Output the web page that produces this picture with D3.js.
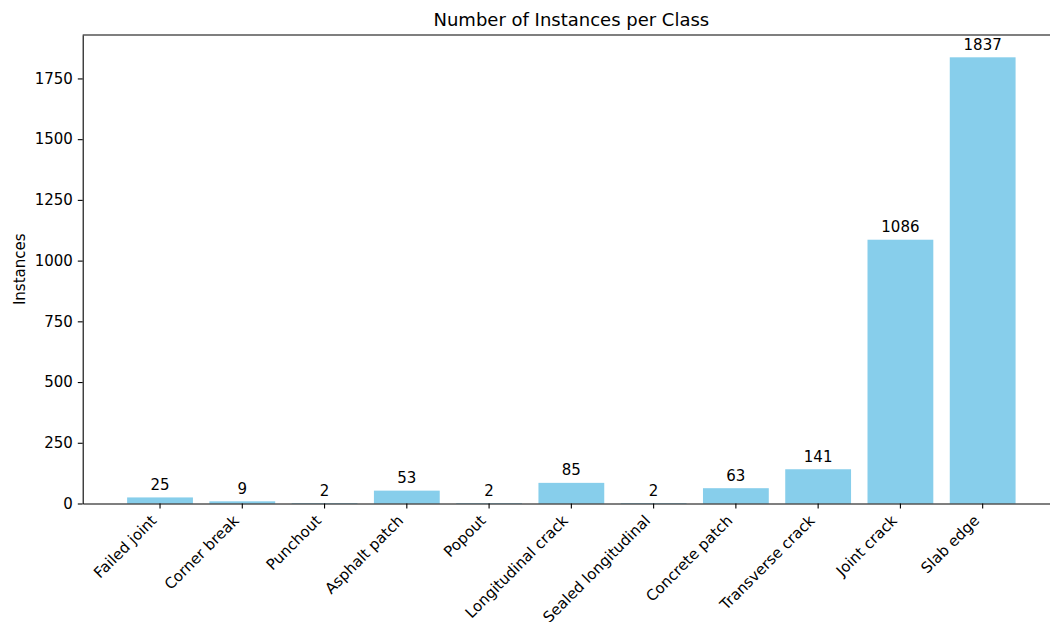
<!DOCTYPE html>
<html>
<head>
<meta charset="utf-8">
<script src="https://cdn.jsdelivr.net/npm/d3@7"></script>
<style>
    body { margin: 0; background: #fff; }
    text { font-family: "DejaVu Sans", sans-serif; fill: #000; }
</style>
</head>
<body>
<svg id="chart" width="1050" height="622"></svg>
<script>
// data
let classes = ["Failed joint", "Corner break", "Punchout", "Asphalt patch", "Popout",
    "Longitudinal crack", "Sealed longitudinal", "Concrete patch", "Transverse crack",
    "Joint crack", "Slab edge"];
let counts = [25, 9, 2, 53, 2, 85, 2, 63, 141, 1086, 1837];
let yTicks = [0, 250, 500, 750, 1000, 1250, 1500, 1750];

let svg = d3.select("#chart");
let axLeft = 82.7, axRight = 1060, axTop = 35, axBottom = 503.5;
let fontSize = "15px";

let xScale = d3.scaleBand()
    .domain(classes)
    .range([axLeft, axRight])
    .paddingInner(0.2)
    .paddingOuter(0.54);

let yScale = d3.scaleLinear()
    .domain([0, d3.max(counts) * 1.05])
    .range([axBottom, axTop]);

// bars
svg.append("g")
    .selectAll("rect")
    .data(counts)
    .enter()
    .append("rect")
    .attr("x", (d, i) => xScale(classes[i]))
    .attr("y", d => yScale(d))
    .attr("width", xScale.bandwidth())
    .attr("height", d => axBottom - yScale(d))
    .attr("fill", "#87ceeb");

// value labels
svg.append("g")
    .selectAll("text")
    .data(counts)
    .enter()
    .append("text")
    .attr("x", (d, i) => xScale(classes[i]) + xScale.bandwidth() / 2)
    .attr("y", d => yScale(d) - 7.5)
    .attr("text-anchor", "middle")
    .style("font-size", fontSize)
    .text(d => d);

// axes
let xAxis = d3.axisBottom(xScale).tickSizeInner(4.9).tickSizeOuter(0).tickPadding(4.9);
let gx = svg.append("g")
    .attr("transform", `translate(0, ${axBottom})`)
    .call(xAxis);
gx.selectAll("text")
    .style("font-size", fontSize)
    .attr("text-anchor", "end")
    .attr("dy", null)
    .attr("y", 0)
    .attr("transform", "translate(-2.5, 18) rotate(-45)");

let yAxis = d3.axisLeft(yScale)
    .tickValues(yTicks)
    .tickFormat(d3.format("d"))
    .tickSizeInner(4.9)
    .tickSizeOuter(0)
    .tickPadding(4.9);
let gy = svg.append("g")
    .attr("transform", `translate(${axLeft}, 0)`)
    .call(yAxis);
gy.selectAll("text").style("font-size", fontSize);

svg.selectAll(".domain, .tick line")
    .attr("stroke", "#000")
    .attr("stroke-width", 1.1);
svg.selectAll(".tick text").attr("fill", "#000").style("font-family", "DejaVu Sans");

// top and right spines
svg.append("line")
    .attr("x1", axLeft).attr("x2", axRight)
    .attr("y1", axTop).attr("y2", axTop)
    .attr("stroke", "#000").attr("stroke-width", 1.1);
svg.append("line")
    .attr("x1", axRight).attr("x2", axRight)
    .attr("y1", axTop).attr("y2", axBottom)
    .attr("stroke", "#000").attr("stroke-width", 1.1);

// title and y label
svg.append("text")
    .attr("x", (axLeft + axRight) / 2)
    .attr("y", axTop - 9)
    .attr("text-anchor", "middle")
    .style("font-size", "18px")
    .text("Number of Instances per Class");

svg.append("text")
    .attr("transform", `translate(25, ${(axTop + axBottom) / 2}) rotate(-90)`)
    .attr("text-anchor", "middle")
    .style("font-size", fontSize)
    .text("Instances");
</script>
</body>
</html>
